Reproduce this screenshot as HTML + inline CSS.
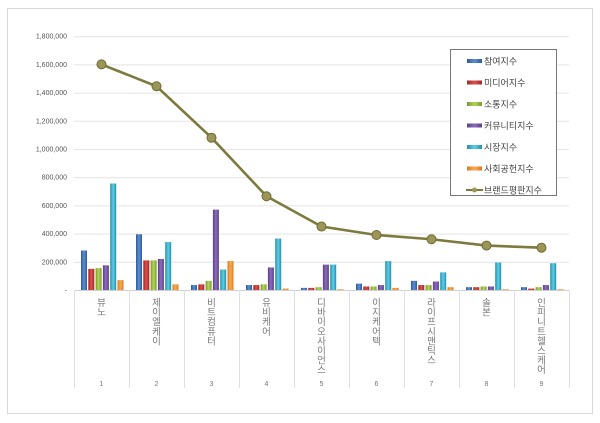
<!DOCTYPE html><html><head><meta charset="utf-8"><style>body{margin:0;background:#fff}svg{display:block}text{font-family:"Liberation Sans","Noto Sans CJK KR",sans-serif}</style></head><body>
<svg width="600" height="423" xmlns="http://www.w3.org/2000/svg">
<defs>
<linearGradient id="g0" x1="0" x2="1"><stop offset="0" stop-color="#2c5a9a"/><stop offset=".5" stop-color="#5d8fd0"/><stop offset="1" stop-color="#2c5a9a"/></linearGradient>
<linearGradient id="g1" x1="0" x2="1"><stop offset="0" stop-color="#a02624"/><stop offset=".5" stop-color="#d9534f"/><stop offset="1" stop-color="#a02624"/></linearGradient>
<linearGradient id="g2" x1="0" x2="1"><stop offset="0" stop-color="#7a9a2c"/><stop offset=".5" stop-color="#b3d65a"/><stop offset="1" stop-color="#7a9a2c"/></linearGradient>
<linearGradient id="g3" x1="0" x2="1"><stop offset="0" stop-color="#5a3f86"/><stop offset=".5" stop-color="#8d6cc0"/><stop offset="1" stop-color="#5a3f86"/></linearGradient>
<linearGradient id="g4" x1="0" x2="1"><stop offset="0" stop-color="#2390aa"/><stop offset=".5" stop-color="#5fcde6"/><stop offset="1" stop-color="#2390aa"/></linearGradient>
<linearGradient id="g5" x1="0" x2="1"><stop offset="0" stop-color="#d9781c"/><stop offset=".5" stop-color="#f8ad55"/><stop offset="1" stop-color="#d9781c"/></linearGradient>
</defs>
<rect x="7.5" y="8.5" width="585" height="405" fill="#fff" stroke="#d9d9d9"/>
<g id="grid" stroke="#e4e4e4" stroke-width="1"></g>
<g id="lab" font-size="7" fill="#555" text-anchor="end"></g>
<g id="bars"></g>
<g id="cats" font-size="9.5" fill="#777" text-anchor="middle"></g>
<polyline id="ln" fill="none" stroke="#7e7a3e" stroke-width="2.6"/>
<g id="pts"></g>
<rect x="450.5" y="49.5" width="106" height="146" fill="#fff" stroke="#777"/>
<g id="leg" font-size="9" fill="#444"></g>
</svg>
<script>
const Z=290,S=28.2/200000,ns='http://www.w3.org/2000/svg';
function el(p,t,a,txt){const e=document.createElementNS(ns,t);for(const k in a)e.setAttribute(k,a[k]);if(txt)e.textContent=txt;document.getElementById(p).appendChild(e);return e;}
for(let i=0;i<=9;i++){const y=Z-i*28.2;if(i>0)el('grid','line',{x1:74,x2:569,y1:y+.5,y2:y+.5});el('lab','text',{x:67,y:y+2.5},i==0?'-':(i*200000).toLocaleString('en-US'));}
el('grid','line',{x1:74,x2:569,y1:Z+.5,y2:Z+.5,stroke:'#d0d0d0'});
const D=[[280,150,155,175,755,70,1600],[395,210,210,220,340,40,1445],[35,40,65,570,145,205,1080],[35,35,40,160,365,10,665],[15,15,20,180,180,5,450],[45,25,25,35,205,15,390],[65,35,35,60,125,20,360],[20,20,25,25,195,5,315],[20,10,20,35,190,5,300]];
const N=['뷰노','제이엘케이','비트컴퓨터','유비케어','디바이오사이언스','이지케어텍','라이프시맨틱스','솔본','인피니트헬스케어'];
let pts=[];
D.forEach((d,i)=>{const x0=74+i*55;el('grid','line',{x1:x0+.5,x2:x0+.5,y1:Z,y2:388,stroke:'#e0e0e0'});
for(let j=0;j<6;j++){const h=d[j]*1000*S;el('bars','rect',{x:x0+7+j*7.3,y:Z-h,width:6,height:h,fill:`url(#g${j})`});}
const cx=x0+27.5;pts.push(cx+','+(Z-d[6]*1000*S));
[...N[i]].forEach((c,k)=>el('cats','text',{x:cx,y:306+k*9.6},c));
el('cats','text',{x:cx,y:386,'font-size':7},String(i+1));});
el('grid','line',{x1:569.5,x2:569.5,y1:Z,y2:388,stroke:'#e0e0e0'});
document.getElementById('ln').setAttribute('points',pts.join(' '));
pts.forEach(p=>{const[x,y]=p.split(',');el('pts','circle',{cx:x,cy:y,r:4.5,fill:'#9b9558',stroke:'#6e6a35','stroke-width':1});});
const L=['참여지수','미디어지수','소통지수','커뮤니티지수','시장지수','사회공헌지수','브랜드평판지수'];
L.forEach((t,k)=>{const y=61+k*21.5;if(k<6)el('leg','rect',{x:467,y:y-2,width:15,height:4,fill:`url(#g${k})`});else{el('leg','line',{x1:466,x2:483,y1:y,y2:y,stroke:'#7e7a3e','stroke-width':2});el('leg','circle',{cx:474.5,cy:y,r:2.5,fill:'#9b9558'});}el('leg','text',{x:484,y:y+3.5},t);});
</script>
</body></html>
